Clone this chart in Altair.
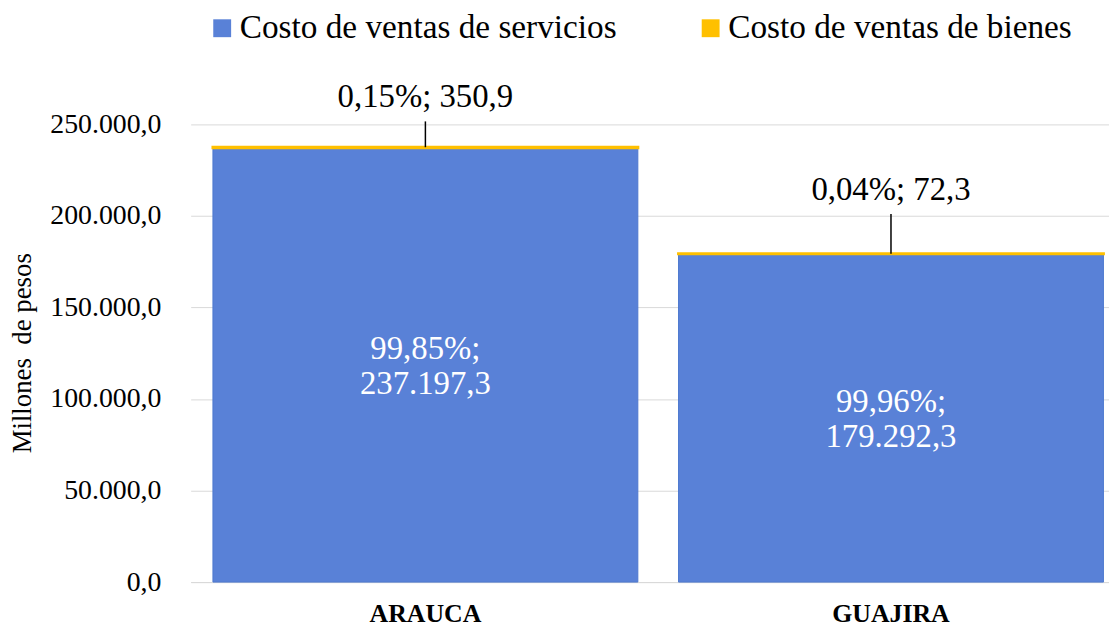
import altair as alt
import pandas as pd

# ---- data ----
categorias = ["ARAUCA", "GUAJIRA"]
servicios = [237197.3, 179292.3]
bienes = [350.9, 72.3]
series = ["Costo de ventas de servicios", "Costo de ventas de bienes"]
ticks_y = [0, 50000, 100000, 150000, 200000, 250000]

# ---- styles ----
colores = ["#5981D7", "#FFC000"]
bordes = ["#4D78CF", "#FFC000"]
FONT = "Liberation Serif"
desplaz_etiqueta = {"ARAUCA": -50, "GUAJIRA": -64}


def fmt_num(v):
    s = f"{v:,.1f}"
    return s.replace(",", "X").replace(".", ",").replace("X", ".")


def fmt_pct(p):
    return f"{p:.2f}".replace(".", ",") + "%"


rows = []
for i, c in enumerate(categorias):
    tot = servicios[i] + bienes[i]
    rows.append(dict(cat=c, serie=series[0], valor=servicios[i], orden=0, total=tot,
                     medio=servicios[i] / 2,
                     etiqueta=fmt_pct(100 * servicios[i] / tot) + ";\n" + fmt_num(servicios[i])))
    rows.append(dict(cat=c, serie=series[1], valor=bienes[i], orden=1, total=tot,
                     medio=servicios[i] + bienes[i] / 2,
                     etiqueta=fmt_pct(100 * bienes[i] / tot) + "; " + fmt_num(bienes[i])))
df = pd.DataFrame(rows)

x_scale = alt.Scale(paddingInner=0.0874, paddingOuter=0.0299, align=0.8)
y_scale = alt.Scale(domain=[0, 250000], nice=False, zero=True)

x_enc = alt.X("cat:N", sort=categorias, scale=x_scale,
              axis=alt.Axis(title=None, labelFont=FONT, labelFontSize=26, labelFontWeight="bold",
                            labelColor="black", labelPadding=19, ticks=False, labelAngle=0,
                            domainColor="#D9D9D9", domainWidth=1, grid=False))

bars = alt.Chart(df).mark_bar().encode(
    x=x_enc,
    y=alt.Y("valor:Q", stack="zero", scale=y_scale,
            axis=alt.Axis(values=ticks_y, format=",.1f", title="Millones\u00a0 de pesos",
                          labelFont=FONT, labelFontSize=28, labelColor="black", labelPadding=30,
                          domain=False, ticks=False, gridColor="#D9D9D9", gridWidth=1,
                          titleFont=FONT, titleFontSize=27, titleFontWeight="normal",
                          titleColor="black", titleX=-169, titleY=230, titleAngle=-90,
                          titleBaseline="middle", titleAlign="center")),
    color=alt.Color("serie:N", scale=alt.Scale(domain=series, range=colores),
                    legend=alt.Legend(orient="none", direction="horizontal", legendX=15, legendY=-114,
                                      title=None, symbolType="square", symbolSize=324,
                                      symbolStrokeWidth=0, labelFont=FONT, labelFontSize=33.5,
                                      labelColor="black", columnPadding=77, labelOffset=1,
                                      padding=0, labelLimit=1000)),
    stroke=alt.Stroke("serie:N", scale=alt.Scale(domain=series, range=bordes), legend=None),
    strokeWidth=alt.condition("datum.orden == 1", alt.value(3), alt.value(1)),
    order=alt.Order("orden:Q"),
)

internos = alt.Chart(df).transform_filter("datum.orden == 0").mark_text(
    font=FONT, fontSize=33, color="white", lineBreak="\n", lineHeight=35, baseline="middle", dy=-16
).encode(
    x=alt.X("cat:N", sort=categorias),
    y=alt.Y("medio:Q"),
    text="etiqueta:N",
)

capas = [bars, internos]
for c in categorias:
    off = desplaz_etiqueta[c]
    base = alt.Chart(df).transform_filter(f"datum.orden == 1 && datum.cat == '{c}'")
    capas.append(base.mark_rule(color="black", strokeWidth=1.5, y2Offset=off + 24).encode(
        x=alt.X("cat:N", sort=categorias), y=alt.Y("total:Q"), y2=alt.Y2("total:Q")))
    capas.append(base.mark_text(font=FONT, fontSize=33, color="black", baseline="middle", dy=off).encode(
        x=alt.X("cat:N", sort=categorias), y=alt.Y("total:Q"), text="etiqueta:N"))

chart = alt.layer(*capas).properties(
    width=925, height=461,
    padding={"left": 184, "top": 115, "right": 0, "bottom": 46},
    autosize=alt.AutoSizeParams(type="none"),
).configure(
    font=FONT,
    locale={"number": {"decimal": ",", "thousands": ".", "grouping": [3], "currency": ["$", ""]}},
).configure_view(stroke=None)

chart.save("out.html", embed_options={"renderer": "svg", "actions": False})
